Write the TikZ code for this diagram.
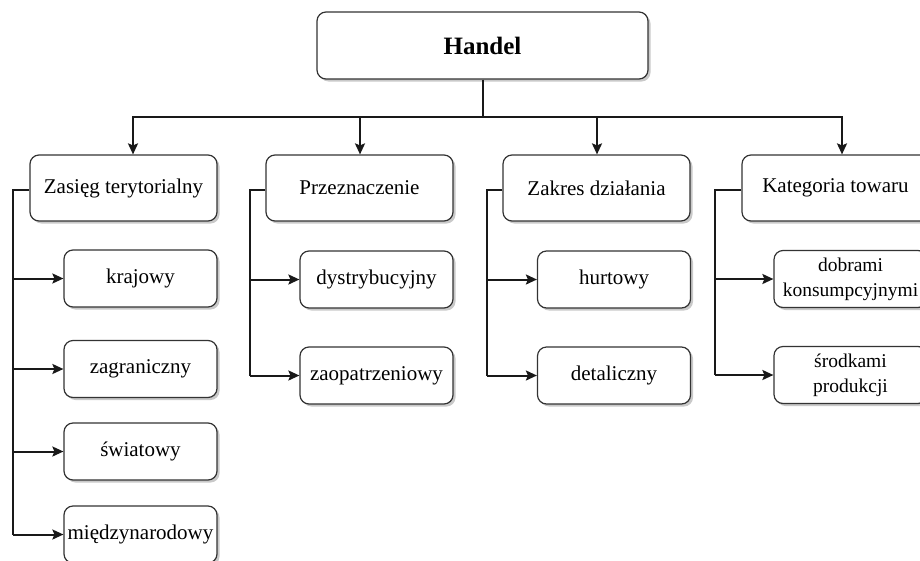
\documentclass[tikz,border=0pt]{standalone}
\usepackage{fontspec}
\setmainfont{Liberation Serif}
\usetikzlibrary{arrows.meta,shadows,calc}

\tikzset{
  box/.style={draw=black!80, line width=1.2pt, rounded corners=9pt, fill=white,
    align=center, inner sep=2pt,
    drop shadow={shadow xshift=2.5pt, shadow yshift=-2.5pt, fill=black!30, opacity=0.7},
    font=\fontsize{21}{24}\selectfont},
  rootbox/.style={box, minimum width=331pt, minimum height=67pt,
    font=\fontsize{25}{28}\selectfont\bfseries},
  catbox/.style={box, minimum width=187pt, minimum height=66pt},
  leafbox/.style={box, minimum width=153pt, minimum height=57pt},
  twoline/.style={font=\fontsize{19.5}{25}\selectfont},
  link/.style={line width=2pt, black!90},
  arrowlink/.style={link, -{Stealth[length=11pt, width=10pt, inset=2pt]}}
}

\begin{document}
\begin{tikzpicture}[x=1pt, y=-1pt]
  \useasboundingbox (0,0) rectangle (920,560);
  \clip (0,0) rectangle (920,560);

  % root
  \node[rootbox] (handel) at (482.5,45.5) {Handel};

  % categories
  \node[catbox] (zas) at (123.5,188) {Zasięg terytorialny};
  \node[catbox] (prz) at (359.5,188) {Przeznaczenie};
  \node[catbox] (zak) at (596.5,188) {Zakres działania};
  \node[catbox] (kat) at (835.5,188) {Kategoria towaru};

  % leaves: Zasięg terytorialny
  \node[leafbox] (kra) at (140.5,278.5) {krajowy};
  \node[leafbox] (zag) at (140.5,369) {zagraniczny};
  \node[leafbox] (swi) at (140.5,451.5) {światowy};
  \node[leafbox] (mie) at (140.5,534.5) {międzynarodowy};

  % leaves: Przeznaczenie
  \node[leafbox] (dys) at (376.5,279.5) {dystrybucyjny};
  \node[leafbox] (zao) at (376.5,375.5) {zaopatrzeniowy};

  % leaves: Zakres działania
  \node[leafbox] (hur) at (614,279.5) {hurtowy};
  \node[leafbox] (det) at (614,375.5) {detaliczny};

  % leaves: Kategoria towaru
  \node[leafbox, twoline] (dob) at (850.5,279) {dobrami\\konsumpcyjnymi};
  \node[leafbox, twoline] (sro) at (850.5,375) {środkami\\produkcji};

  % bus under the root
  \coordinate (bus) at (482.5,117);
  \coordinate (b1) at (133,117);
  \coordinate (b2) at (360,117);
  \coordinate (b3) at (597,117);
  \coordinate (b4) at (842,117);
  \draw[link] (handel.south) -- (bus);
  \draw[link, line cap=rect] (b1) -- (b4);
  \draw[arrowlink] (b1) -- (b1 |- zas.north);
  \draw[arrowlink] (b2) -- (b2 |- prz.north);
  \draw[arrowlink] (b3) -- (b3 |- zak.north);
  \draw[arrowlink] (b4) -- (b4 |- kat.north);

  % spines to the leaves
  \coordinate (s1) at (13,190);
  \coordinate (s2) at (250,190);
  \coordinate (s3) at (487,190);
  \coordinate (s4) at (715,190);

  \draw[link] (zas.west |- s1) -- (s1) -- (s1 |- mie.west);
  \foreach \c in {kra,zag,swi,mie}
    \draw[arrowlink] (s1 |- \c.west) -- (\c.west);

  \draw[link] (prz.west |- s2) -- (s2) -- (s2 |- zao.west);
  \foreach \c in {dys,zao}
    \draw[arrowlink] (s2 |- \c.west) -- (\c.west);

  \draw[link] (zak.west |- s3) -- (s3) -- (s3 |- det.west);
  \foreach \c in {hur,det}
    \draw[arrowlink] (s3 |- \c.west) -- (\c.west);

  \draw[link] (kat.west |- s4) -- (s4) -- (s4 |- sro.west);
  \foreach \c in {dob,sro}
    \draw[arrowlink] (s4 |- \c.west) -- (\c.west);
\end{tikzpicture}
\end{document}
